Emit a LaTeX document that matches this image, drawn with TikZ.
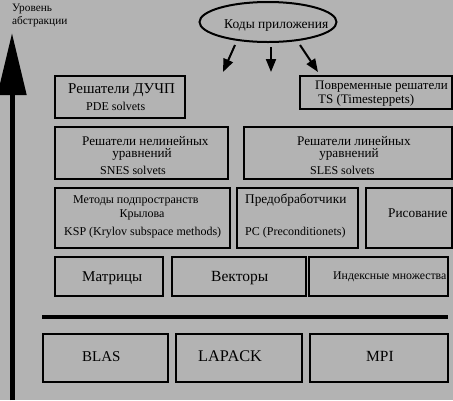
\documentclass[tikz,border=0pt]{standalone}
\usepackage{fontspec}
\setmainfont{Liberation Serif}
\usetikzlibrary{arrows.meta,shapes.geometric}
\definecolor{bg}{HTML}{B3B3B3}
\tikzset{
  box/.style={draw, line width=2pt, rectangle, inner sep=0pt},
  fs/.style={font=\fontsize{#1}{#1}\selectfont, inner sep=0pt},
  tl/.style={anchor=base west},
  tc/.style={anchor=base},
  arr/.style={line width=2pt, -{Triangle[length=13pt,width=10pt]}},
}
\newcommand{\bx}[5]{\node[box, minimum width=#4-#2, minimum height=#5-#3] (#1) at ({(#2+#4)/2},{-(#3+#5)/2}) {};}
\begin{document}
\begin{tikzpicture}[x=1pt,y=1pt]
\useasboundingbox[fill=bg] (0,0) rectangle (453,-400);
% abstraction axis
\coordinate (axbot) at (12,-400);
\coordinate (axtop) at (12,-33);
\draw[line width=5pt, -{Triangle[length=62pt,width=28pt]}] (axbot) -- (axtop);
\node[fs=11.3, tl] (lv1) at (12,-11) {Уровень};
\node[fs=11.3, tl] (lv2) at (12,-24) {абстракции};
% ellipse
\node[draw, ellipse, line width=2pt, minimum width=137pt, minimum height=40pt, inner sep=0pt] (app) at (268,-22) {};
\node[fs=13.5, tl] (apptext) at (224,-28) {Коды приложения};
\coordinate (a1) at (223,-72);
\coordinate (a2) at (271,-72);
\coordinate (a3) at (318,-72);
\draw[arr] (235,-45) -- (a1);
\draw[arr] (271,-47) -- (a2);
\draw[arr] (300,-45) -- (a3);
% row 1
\bx{pde}{55}{76}{185}{118}
\node[fs=15, tl] (pdet) at (68,-93) {Решатели ДУЧП};
\node[fs=12, tl] (pdes) at (86,-110) {PDE solvets};
\bx{ts}{300}{76}{452}{109}
\node[fs=13, tl] (tst) at (315,-89) {Повременные решатели};
\node[fs=13, tl] (tss) at (318,-103) {TS (Timesteppets)};
% row 2
\bx{snes}{55}{127}{228}{179}
\node[fs=13.2, tl] (snest1) at (82,-145) {Решатели нелинейных};
\node[fs=13.2, tc] (snest2) at (142,-157) {уравнений};
\node[fs=12, tl] (sness) at (100,-174) {SNES solvets};
\bx{sles}{244}{127}{452}{179}
\node[fs=13.2, tl] (slest1) at (297,-145) {Решатели линейных};
\node[fs=13.2, tc] (slest2) at (349,-157) {уравнений};
\node[fs=12, tl] (sless) at (310,-174) {SLES solvets};
% row 3
\bx{ksp}{55}{188}{230}{248}
\node[fs=12, tl] (kspt1) at (73,-203) {Методы подпространств};
\node[fs=12, tc] (kspt2) at (142,-217) {Крылова};
\node[fs=12, tl] (ksps) at (64,-235) {KSP (Krylov subspace methods)};
\bx{pc}{237}{188}{358}{248}
\node[fs=13.3, tl] (pct) at (245,-203) {Предобработчики};
\node[fs=12, tl] (pcs) at (245,-235) {PC (Preconditionets)};
\bx{draw}{366}{188}{452}{248}
\node[fs=13.3, tl] (drawt) at (388,-217) {Рисование};
% row 4
\bx{mat}{55}{257}{163}{296}
\node[fs=15, tl] (matt) at (82,-281) {Матрицы};
\bx{vec}{172}{257}{306}{296}
\node[fs=15.5, tl] (vect) at (211,-281) {Векторы};
\bx{idx}{309}{257}{448}{296}
\node[fs=11.8, tl] (idxt) at (333,-279) {Индексные множества};
% separator
\coordinate (sepl) at (42,-317);
\coordinate (sepr) at (448,-317);
\draw[line width=4pt] (sepl) -- (sepr);
% row 5
\bx{blas}{43}{334}{168}{382}
\node[fs=15, tl] (blast) at (82,-361) {BLAS};
\bx{lapack}{176}{334}{302}{382}
\node[fs=16.3, tl] (lapackt) at (198,-361) {LAPACK};
\bx{mpi}{310}{334}{448}{382}
\node[fs=15.5, tl] (mpit) at (366,-361) {MPI};
\end{tikzpicture}
\end{document}
